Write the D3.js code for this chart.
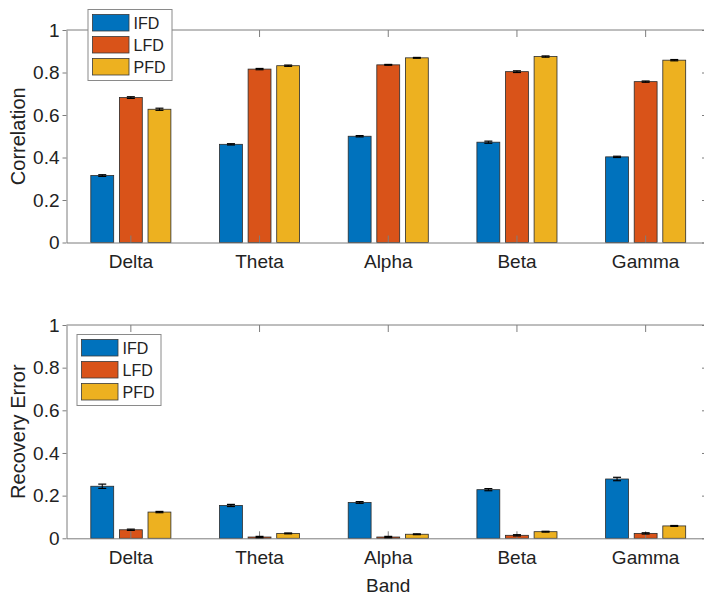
<!DOCTYPE html>
<html>
<head>
<meta charset="utf-8">
<script src="https://cdn.jsdelivr.net/npm/d3@7/dist/d3.min.js"></script>
<style>
  html, body { margin: 0; padding: 0; background: #fff; }
  svg { display: block; font-family: "Liberation Sans", Arial, Helvetica, sans-serif; }
</style>
</head>
<body>
<svg id="chart" width="704" height="594"></svg>
<script>
// Frequency bands and feature-derivation methods
const bands = ["Delta", "Theta", "Alpha", "Beta", "Gamma"];
const methods = ["IFD", "LFD", "PFD"];
const methodColors = ["#0072BD", "#D95319", "#EDB120"];
const yTicks = [0, 0.2, 0.4, 0.6, 0.8, 1];

// Correlation (mean per band, per method) and its error
const corrIFD = [0.315, 0.462, 0.500, 0.472, 0.403];
const corrLFD = [0.682, 0.816, 0.836, 0.804, 0.757];
const corrPFD = [0.627, 0.832, 0.869, 0.875, 0.858];
const corrErrIFD = [0.004, 0.003, 0.003, 0.005, 0.003];
const corrErrLFD = [0.004, 0.003, 0.002, 0.004, 0.003];
const corrErrPFD = [0.005, 0.003, 0.002, 0.003, 0.003];

// Recovery error (mean per band, per method) and its error
const recIFD = [0.244, 0.154, 0.168, 0.228, 0.278];
const recLFD = [0.040, 0.006, 0.006, 0.014, 0.023];
const recPFD = [0.123, 0.023, 0.019, 0.031, 0.058];
const recErrIFD = [0.010, 0.005, 0.004, 0.005, 0.008];
const recErrLFD = [0.003, 0.003, 0.003, 0.003, 0.003];
const recErrPFD = [0.003, 0.002, 0.002, 0.002, 0.002];

const svg = d3.select("#chart");

const left = 66.5, right = 710;

function drawPanel(cfg) {
  const g = svg.append("g");
  const x0 = d3.scaleBand().domain(bands).range([left, right]).paddingInner(0).paddingOuter(0);
  const groupW = x0.bandwidth() * 2 / 3;
  const x1 = d3.scaleBand().domain(methods)
    .range([(x0.bandwidth() - groupW) / 2, (x0.bandwidth() + groupW) / 2])
    .paddingInner(0.2).paddingOuter(0.1);
  const y = d3.scaleLinear().domain([0, 1]).range([cfg.bottom, cfg.top]);

  const rows = [];
  methods.forEach((m, mi) => {
    bands.forEach((b, bi) => {
      rows.push({ band: b, method: m, mi: mi, v: cfg.values[mi][bi], e: cfg.errors[mi][bi] });
    });
  });

  // bars
  g.append("g").selectAll("rect").data(rows).join("rect")
    .attr("x", d => x0(d.band) + x1(d.method))
    .attr("y", d => y(d.v))
    .attr("width", x1.bandwidth())
    .attr("height", d => y(0) - y(d.v))
    .attr("fill", d => methodColors[d.mi])
    .attr("stroke", "#2b2b2b")
    .attr("stroke-width", 0.8);

  // axes box
  const axisColor = "#7d7d7d";
  g.append("line").attr("x1", left).attr("x2", right).attr("y1", y(1)).attr("y2", y(1))
    .attr("stroke", axisColor).attr("stroke-width", 1);
  g.append("line").attr("x1", right).attr("x2", right).attr("y1", y(0)).attr("y2", y(1))
    .attr("stroke", axisColor).attr("stroke-width", 1);

  // bottom axis with inward ticks
  const xAxis = d3.axisBottom(x0).tickSizeInner(-7).tickSizeOuter(0).tickPadding(12);
  const gx = g.append("g").attr("transform", `translate(0,${y(0)})`).call(xAxis);
  gx.select(".domain").attr("stroke", axisColor);
  gx.selectAll(".tick line").attr("stroke", axisColor);
  gx.selectAll(".tick text").attr("font-size", 19).attr("fill", "#222")
    .attr("font-family", "Liberation Sans, Arial, sans-serif");

  // top axis ticks (inward)
  const xTop = d3.axisTop(x0).tickSizeInner(-7).tickSizeOuter(0).tickFormat("");
  const gxt = g.append("g").attr("transform", `translate(0,${y(1)})`).call(xTop);
  gxt.select(".domain").remove();
  gxt.selectAll(".tick line").attr("stroke", axisColor);

  // left axis
  const yAxis = d3.axisLeft(y).tickValues(yTicks).tickFormat(d3.format("~g"))
    .tickSizeInner(4).tickSizeOuter(0).tickPadding(3);
  const gy = g.append("g").attr("transform", `translate(${left},0)`).call(yAxis);
  gy.select(".domain").attr("stroke", axisColor);
  gy.selectAll(".tick line").attr("stroke", axisColor);
  gy.selectAll(".tick text").attr("font-size", 19).attr("fill", "#222")
    .attr("font-family", "Liberation Sans, Arial, sans-serif");

  // right axis ticks (inward)
  const yRight = d3.axisRight(y).tickValues(yTicks).tickSizeInner(-8).tickSizeOuter(0).tickFormat("");
  const gyr = g.append("g").attr("transform", `translate(${right},0)`).call(yRight);
  gyr.select(".domain").remove();
  gyr.selectAll(".tick line").attr("stroke", axisColor);

  // error bars
  const capHalf = 4;
  const eb = g.append("g").selectAll("g").data(rows).join("g")
    .attr("transform", d => `translate(${x0(d.band) + x1(d.method) + x1.bandwidth() / 2},0)`);
  eb.append("line").attr("x1", 0).attr("x2", 0)
    .attr("y1", d => y(d.v - d.e)).attr("y2", d => y(d.v + d.e))
    .attr("stroke", "#000").attr("stroke-width", 1);
  eb.append("line").attr("x1", -capHalf).attr("x2", capHalf)
    .attr("y1", d => y(d.v - d.e)).attr("y2", d => y(d.v - d.e))
    .attr("stroke", "#000").attr("stroke-width", 1.2);
  eb.append("line").attr("x1", -capHalf).attr("x2", capHalf)
    .attr("y1", d => y(d.v + d.e)).attr("y2", d => y(d.v + d.e))
    .attr("stroke", "#000").attr("stroke-width", 1.2);

  // y label
  g.append("text")
    .attr("transform", `translate(25,${(y(0) + y(1)) / 2}) rotate(-90)`)
    .attr("text-anchor", "middle")
    .attr("font-size", 20).attr("fill", "#222")
    .text(cfg.ylabel);

  // legend
  const L = cfg.legend;
  const lg = g.append("g").attr("transform", `translate(${L.x},${L.y})`);
  lg.append("rect").attr("x", 0).attr("y", 0).attr("width", L.w).attr("height", 71)
    .attr("fill", "#fff").attr("stroke", "#8a8a8a").attr("stroke-width", 1);
  methods.forEach((m, i) => {
    lg.append("rect").attr("x", 4.5).attr("y", 5 + i * 22).attr("width", 36.5).attr("height", 16.5)
      .attr("fill", methodColors[i]).attr("stroke", "#3a3a3a").attr("stroke-width", 0.8);
    lg.append("text").attr("x", 45.5).attr("y", 19.5 + i * 22)
      .attr("font-size", 16).attr("fill", "#222").text(m);
  });

  return { x0, y };
}

drawPanel({
  top: 30, bottom: 242.5,
  values: [corrIFD, corrLFD, corrPFD],
  errors: [corrErrIFD, corrErrLFD, corrErrPFD],
  ylabel: "Correlation",
  legend: { x: 88, y: 9.5, w: 84 }
});

const p2 = drawPanel({
  top: 325, bottom: 538.3,
  values: [recIFD, recLFD, recPFD],
  errors: [recErrIFD, recErrLFD, recErrPFD],
  ylabel: "Recovery Error",
  legend: { x: 77, y: 334.5, w: 84 }
});

// x label
svg.append("text")
  .attr("x", p2.x0("Alpha") + p2.x0.bandwidth() / 2).attr("y", 591.5)
  .attr("text-anchor", "middle").attr("font-size", 19).attr("fill", "#222")
  .text("Band");
</script>
</body>
</html>
